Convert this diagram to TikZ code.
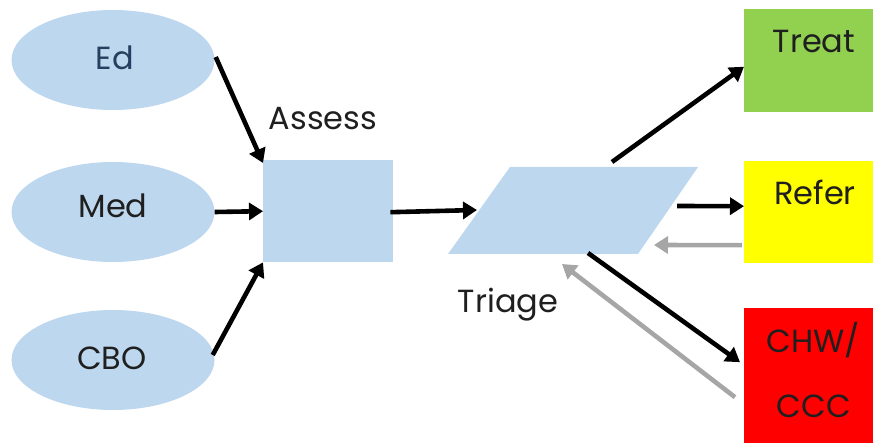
\documentclass[tikz,border=0pt]{standalone}
\usepackage{fontspec}
\setmainfont{Poppins}
\usetikzlibrary{shapes.geometric,arrows.meta,calc}
\definecolor{lblue}{HTML}{BDD7EE}
\definecolor{tgreen}{HTML}{92D050}
\definecolor{ryellow}{HTML}{FFFF00}
\definecolor{cred}{HTML}{FF0000}
\definecolor{agray}{HTML}{A6A6A6}
\definecolor{edtxt}{HTML}{243F60}
\tikzset{
  src/.style={ellipse, fill=lblue, minimum width=203pt, minimum height=100pt, inner sep=0pt},
  outbox/.style={rectangle, minimum width=129pt, inner sep=0pt, anchor=north west},
  lbl/.style={anchor=base, inner sep=0pt, font=\fontsize{32}{36}\selectfont, text=black!88},
  fwd/.style={line width=4.6pt, draw=black, -{Triangle[length=14pt,width=17pt]}},
  back/.style={line width=4.6pt, draw=agray, -{Triangle[length=14pt,width=17pt]}}
}
\begin{document}
\begin{tikzpicture}[x=1pt,y=-1pt]
\useasboundingbox (0,0) rectangle (873,443);
% sources
\node[src] (ed) at (113,60) {};
\node[src] (med) at (113,212) {};
\node[src] (cbo) at (113,360) {};
\node[lbl, text=edtxt] (edt) at (115,70) {Ed};
\node[lbl] (medt) at (113,218) {Med};
\node[lbl] (cbot) at (112,370) {CBO};
% assess
\node[rectangle, fill=lblue, minimum width=130pt, minimum height=102pt, inner sep=0pt, anchor=north west] (assess) at (263,160) {};
\node[lbl] (assesst) at (323,130) {Assess};
% triage parallelogram
\fill[lblue] (510,167) -- (698,167) -- (638,254) -- (448,254) -- cycle;
\coordinate (triW) at (477,210);
\coordinate (triNE) at (612,162);
\coordinate (triE) at (677,206);
\coordinate (triEb) at (654,245);
\coordinate (triS) at (588,253);
\coordinate (triSb) at (562,264);
\node[lbl] (triaget) at (508,313) {Triage};
% outcomes
\node[outbox, fill=tgreen, minimum height=103pt] (treat) at (744,9) {};
\node[outbox, fill=ryellow, minimum height=102pt] (refer) at (744,161) {};
\node[outbox, fill=cred, minimum height=136pt] (chw) at (744,308) {};
\node[lbl] (treatt) at (814,53) {Treat};
\node[lbl] (refert) at (815,205) {Refer};
\node[lbl] (chwt) at (813,353) {CHW/};
\node[lbl] (ccct) at (814,418) {CCC};
% connectors
\draw[fwd] ($(ed.east)+(1,-3)$) -- ($(assess.north west)+(0,3)$);
\draw[fwd] (med.east) -- (assess.west);
\draw[fwd] ($(cbo.east)+(-2,-5)$) -- (assess.south west);
\draw[fwd] ($(assess.east)+(-3,1)$) -- (triW);
\draw[fwd] (triNE) -- ($(treat.west)+(0,6)$);
\draw[fwd] (triE) -- ($(refer.west)+(0,-6)$);
\draw[back] ($(refer.west)+(-2,33)$) -- (triEb);
\draw[fwd] (triS) -- ($(chw.west)+(-4,-14)$);
\draw[back] ($(chw.west)+(-9,21)$) -- (triSb);
\end{tikzpicture}
\end{document}
